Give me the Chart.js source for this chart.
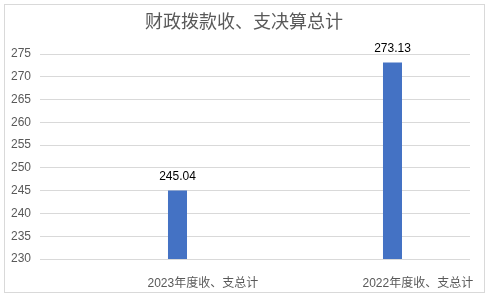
<!DOCTYPE html>
<html>
<head>
<meta charset="utf-8">
<script src="https://cdn.jsdelivr.net/npm/chart.js@4/dist/chart.umd.min.js"></script>
<style>
  html, body { margin: 0; padding: 0; background: #fff; }
  #wrap { width: 489px; height: 297px; }
</style>
</head>
<body>
<div id="wrap"><canvas id="budgetChart" width="489" height="297"></canvas></div>
<script>
const chartTitle = '财政拨款收、支决算总计';
const categories = ['2023年度收、支总计', '2022年度收、支总计'];
const totals = [245.04, 273.13];
const emptySeries = [null, null];
const yMin = 230;
const yMax = 275;
const yStep = 5;

const fontFamily = '"Liberation Sans", "Noto Sans CJK SC", sans-serif';

// light grey frame round the whole chart, plus the title centred on the frame
const frame = {
  id: 'frame',
  beforeDraw(chart) {
    const ctx = chart.ctx;
    ctx.save();
    ctx.fillStyle = '#fff';
    ctx.fillRect(0, 0, chart.width, chart.height);
    ctx.strokeStyle = '#d9d9d9';
    ctx.lineWidth = 1;
    ctx.strokeRect(4.5, 4.5, 480, 288);
    ctx.font = '18px ' + fontFamily;
    ctx.fillStyle = '#595959';
    ctx.textAlign = 'center';
    ctx.textBaseline = 'middle';
    ctx.fillText(chartTitle, 244, 23);
    ctx.restore();
  }
};

// value labels above the bars
const valueLabels = {
  id: 'valueLabels',
  afterDatasetsDraw(chart) {
    const ctx = chart.ctx;
    const meta = chart.getDatasetMeta(1);
    ctx.save();
    ctx.font = '12px ' + fontFamily;
    ctx.fillStyle = '#000';
    ctx.textAlign = 'center';
    ctx.textBaseline = 'middle';
    meta.data.forEach((bar, i) => {
      ctx.fillText(totals[i].toFixed(2), bar.x, bar.y - 14);
    });
    ctx.restore();
  }
};

new Chart(document.getElementById('budgetChart'), {
  type: 'bar',
  data: {
    labels: categories,
    datasets: [
      { data: emptySeries },
      {
        data: totals,
        backgroundColor: '#4472c4'
      }
    ]
  },
  options: {
    responsive: false,
    animation: false,
    datasets: { bar: { categoryPercentage: 0.558, barPercentage: 0.317 } },
    layout: { padding: { left: 0, right: 19, top: 54, bottom: 0 } },
    plugins: {
      legend: { display: false },
      tooltip: { enabled: false },
      title: { display: false }
    },
    scales: {
      x: {
        grid: { display: false },
        border: { display: false },
        ticks: {
          align: 'start',
          color: '#595959',
          font: { family: fontFamily, size: 12 },
          padding: 9,
          maxRotation: 0,
          autoSkip: false
        },
        afterFit(scale) {
          scale.height = 38;
          scale.paddingLeft = 0;
          scale.paddingRight = 0;
        }
      },
      y: {
        min: yMin,
        max: yMax,
        grid: { color: '#d9d9d9', drawTicks: false },
        border: { display: false },
        ticks: {
          stepSize: yStep,
          color: '#595959',
          font: { family: fontFamily, size: 12 },
          padding: 9
        },
        afterFit(scale) { scale.width = 40; }
      }
    }
  },
  plugins: [frame, valueLabels]
});
</script>
</body>
</html>
